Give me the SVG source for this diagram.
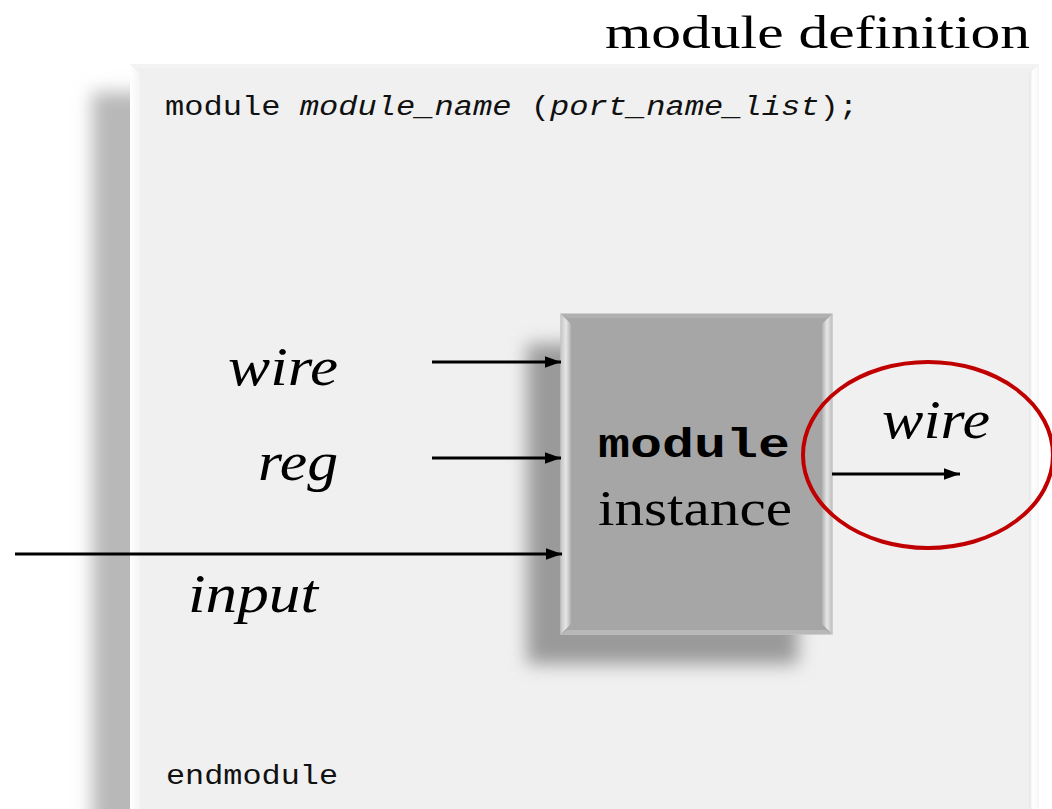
<svg xmlns="http://www.w3.org/2000/svg" width="1052" height="809" viewBox="0 0 1052 809">
<defs>
<filter id="blur" x="-20%" y="-20%" width="140%" height="140%"><feGaussianBlur stdDeviation="9"/></filter>
<linearGradient id="bevL" x1="0" x2="1" y1="0" y2="0"><stop offset="0" stop-color="#ffffff"/><stop offset="1" stop-color="#f4f4f4"/></linearGradient>
<linearGradient id="bevR" x1="0" x2="1" y1="0" y2="0"><stop offset="0" stop-color="#e4e4e4"/><stop offset="0.4" stop-color="#ffffff"/><stop offset="1" stop-color="#f6f6f6"/></linearGradient>
<linearGradient id="mbL" x1="0" x2="1"><stop offset="0" stop-color="#c8c8c8"/><stop offset="0.5" stop-color="#e6e6e6"/><stop offset="1" stop-color="#b0b0b0"/></linearGradient>
<linearGradient id="mbR" x1="0" x2="1"><stop offset="0" stop-color="#b0b0b0"/><stop offset="0.5" stop-color="#e6e6e6"/><stop offset="1" stop-color="#c0c0c0"/></linearGradient>
<marker id="ah" viewBox="0 0 10 10" refX="10" refY="5" markerWidth="5.5" markerHeight="4" orient="auto" markerUnits="strokeWidth" preserveAspectRatio="none"><path d="M0,0 L10,5 L0,10 z" fill="#000"/></marker>
</defs>
<style>
.code{font-family:"Liberation Mono","Courier New",monospace;font-size:27px;fill:#111}
.lab{font-family:"Liberation Serif","Times New Roman",serif;font-style:italic;font-size:54px;fill:#000}
.conn{stroke:#000;stroke-width:3;fill:none;marker-end:url(#ah)}
</style>
<rect width="1052" height="809" fill="#ffffff"/>
<g id="module_definition">
<rect x="92" y="92" width="900" height="760" fill="#b8b8b8" filter="url(#blur)"/>
<rect x="130" y="64" width="909" height="760" fill="#f0f0f0"/>
<polygon points="130,64 140,74 140,809 130,809" fill="url(#bevL)"/>
<polygon points="1039,64 1029,74 1029,809 1039,809" fill="url(#bevR)"/>
<polygon points="130,64 1039,64 1033,68 136,68" fill="#f3f3f3"/>
<text x="605" y="48" font-family="'Liberation Serif','Times New Roman',serif" font-size="47" textLength="425" lengthAdjust="spacingAndGlyphs" fill="#000">module definition</text>
<text class="code" x="165" y="115" textLength="693" lengthAdjust="spacingAndGlyphs">module <tspan font-style="italic">module_name</tspan> (<tspan font-style="italic">port_name_list</tspan>);</text>
<text class="code" x="166" y="784" textLength="172" lengthAdjust="spacingAndGlyphs">endmodule</text>
</g>
<g id="module_instance">
<rect x="527" y="344" width="271" height="320" fill="#9a9a9a" filter="url(#blur)"/>
<rect x="561" y="314" width="271" height="320" fill="#a6a6a6" stroke="#c4c4c4" stroke-width="1.5"/>
<polygon points="561,314 571,324 571,624 561,634" fill="url(#mbL)"/>
<polygon points="832,314 822,324 822,624 832,634" fill="url(#mbR)"/>
<polygon points="561,314 832,314 826,318 567,318" fill="#b0b0b0"/>
<polygon points="561,634 832,634 826,630 567,630" fill="#b8b8b8"/>
<text x="598" y="457" font-family="'Liberation Mono','Courier New',monospace" font-weight="bold" font-size="40" textLength="192" lengthAdjust="spacingAndGlyphs" fill="#000">module</text>
<text x="598" y="525" font-family="'Liberation Serif','Times New Roman',serif" font-size="50" textLength="194" lengthAdjust="spacingAndGlyphs" fill="#000">instance</text>
</g>
<g id="labels">
<text class="lab" x="228" y="385" textLength="110" lengthAdjust="spacingAndGlyphs">wire</text>
<text class="lab" x="258" y="480" textLength="80" lengthAdjust="spacingAndGlyphs">reg</text>
<text class="lab" x="188" y="612" textLength="130" lengthAdjust="spacingAndGlyphs">input</text>
<text class="lab" x="882" y="438" textLength="108" lengthAdjust="spacingAndGlyphs">wire</text>
</g>
<g id="connectors">
<line class="conn" x1="432" y1="362" x2="561" y2="362"/>
<line class="conn" x1="432" y1="458" x2="561" y2="458"/>
<line class="conn" x1="15" y1="554" x2="562" y2="554"/>
<line class="conn" x1="832" y1="474" x2="960" y2="474"/>
</g>
<g id="highlight">
<ellipse cx="928" cy="455" rx="125" ry="93" fill="none" stroke="#c00000" stroke-width="4"/>
</g>
</svg>
